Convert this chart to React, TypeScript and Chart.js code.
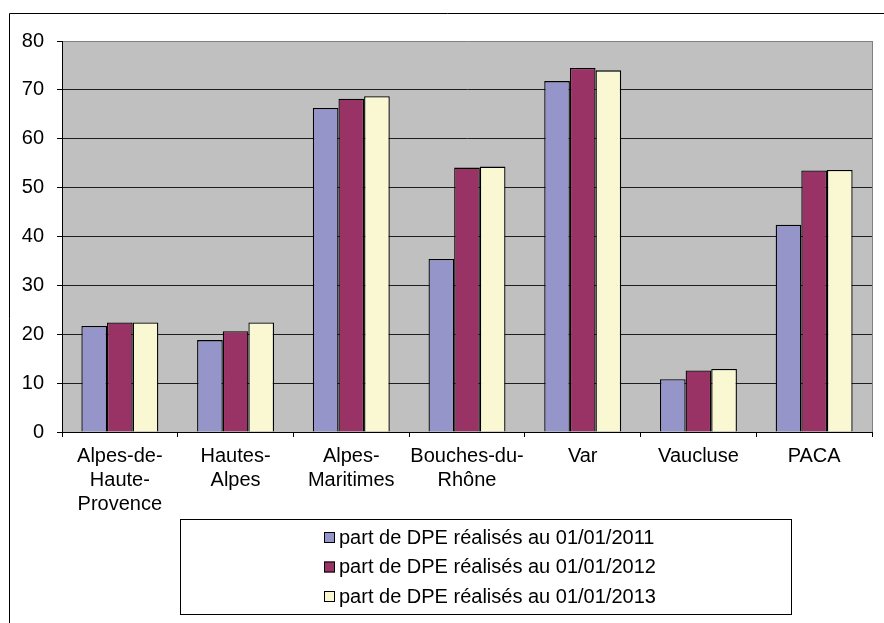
import React, { useEffect, useRef } from "react";
import { Chart, registerables } from "chart.js";

Chart.register(...registerables);

const categories: (string | string[])[] = [
  ["Alpes-de-", "Haute-", "Provence"],
  ["Hautes-", "Alpes"],
  ["Alpes-", "Maritimes"],
  ["Bouches-du-", "Rhône"],
  "Var",
  "Vaucluse",
  "PACA",
];

const seriesLabels = [
  "part de DPE réalisés au 01/01/2011",
  "part de DPE réalisés au 01/01/2012",
  "part de DPE réalisés au 01/01/2013",
];

const values2011 = [21.7, 18.8, 66.3, 35.4, 71.8, 10.8, 42.4];
const values2012 = [22.4, 20.6, 68.2, 54.1, 74.5, 12.6, 53.5];
const values2013 = [22.4, 22.4, 68.7, 54.3, 74.0, 12.9, 53.6];

const seriesColors = ["#9595C9", "#993366", "#FAF8D2"];

const yTicksMax = 80;
const yStep = 10;

const FONT = "'Liberation Sans', Arial, Helvetica, sans-serif";

const decorPlugin = {
  id: "decor",
  beforeDraw(chart: any) {
    const { ctx, chartArea } = chart;
    ctx.save();
    ctx.fillStyle = "#FFFFFF";
    ctx.fillRect(0, 0, chart.width, chart.height);
    ctx.fillStyle = "#C0C0C0";
    ctx.fillRect(
      chartArea.left,
      chartArea.top,
      chartArea.right - chartArea.left,
      chartArea.bottom - chartArea.top
    );
    ctx.restore();
  },
  afterDraw(chart: any) {
    const { ctx, chartArea } = chart;
    ctx.save();
    // right border of plot area
    ctx.strokeStyle = "#808080";
    ctx.lineWidth = 1;
    ctx.beginPath();
    ctx.moveTo(chartArea.right + 0.5, chartArea.top);
    ctx.lineTo(chartArea.right + 0.5, chartArea.bottom);
    ctx.stroke();

    // outer chart frame (top and left visible)
    ctx.strokeStyle = "#000000";
    ctx.beginPath();
    ctx.moveTo(9.5, chart.height + 2);
    ctx.lineTo(9.5, 13.5);
    ctx.lineTo(chart.width + 2, 13.5);
    ctx.stroke();

    // legend
    const boxL = 180.5;
    const boxT = 519.5;
    const boxR = 791.5;
    const boxB = 614.5;
    ctx.strokeStyle = "#000000";
    ctx.strokeRect(boxL, boxT, boxR - boxL, boxB - boxT);
    ctx.font = `20px ${FONT}`;
    ctx.textBaseline = "middle";
    ctx.textAlign = "left";
    const rowY = [537, 566.5, 596];
    chart.data.datasets.forEach((ds: any, i: number) => {
      const cy = rowY[i];
      ctx.fillStyle = ds.backgroundColor;
      ctx.fillRect(324, cy - 5, 11, 11);
      ctx.strokeStyle = "#000";
      ctx.strokeRect(324.5, cy - 4.5, 10, 10);
      ctx.fillStyle = "#000";
      ctx.fillText(ds.label, 339, cy + 1);
    });
    ctx.restore();
  },
};

export default function App() {
  const canvasRef = useRef<HTMLCanvasElement | null>(null);

  useEffect(() => {
    if (!canvasRef.current) return;
    Chart.defaults.font.family = FONT;
    const chart = new Chart(canvasRef.current, {
      type: "bar",
      data: {
        labels: categories,
        datasets: [values2011, values2012, values2013].map((vals, i) => ({
          label: seriesLabels[i],
          data: vals,
          backgroundColor: seriesColors[i],
          borderColor: "#000000",
          borderWidth: 1.3,
          categoryPercentage: 0.665,
          barPercentage: 1.0,
        })),
      },
      options: {
        animation: false,
        responsive: true,
        maintainAspectRatio: false,
        devicePixelRatio: 1,
        layout: { padding: { top: 41, right: 12, left: 0, bottom: 0 } },
        plugins: {
          legend: { display: false },
          tooltip: { enabled: false },
          title: { display: false },
        },
        scales: {
          x: {
            offset: true,
            grid: {
              display: true,
              drawOnChartArea: false,
              offset: true,
              tickLength: 5,
              color: "#000000",
            },
            border: { display: true, color: "#000000", width: 1 },
            ticks: {
              color: "#000000",
              font: { size: 20, family: FONT, lineHeight: 1.2 },
              padding: 7,
              maxRotation: 0,
              minRotation: 0,
              autoSkip: false,
            },
            afterFit(scale: any) {
              scale.height = 191;
            },
          },
          y: {
            min: 0,
            max: yTicksMax,
            ticks: {
              stepSize: yStep,
              color: "#000000",
              font: { size: 20, family: FONT },
              padding: 13,
            },
            grid: {
              color: (c: any) =>
                c.tick && c.tick.value === yTicksMax ? "#808080" : "#1E1E1E",
              tickColor: "#000000",
              tickLength: 5,
              lineWidth: 1,
            },
            border: { display: true, color: "#000000", width: 1 },
            afterFit(scale: any) {
              scale.width = 62;
            },
          },
        },
      },
      plugins: [decorPlugin],
    });
    return () => chart.destroy();
  }, []);

  return (
    <div
      style={{
        position: "absolute",
        left: 0,
        top: 0,
        width: 884,
        height: 623,
        background: "#fff",
      }}
    >
      <canvas ref={canvasRef} />
    </div>
  );
}
